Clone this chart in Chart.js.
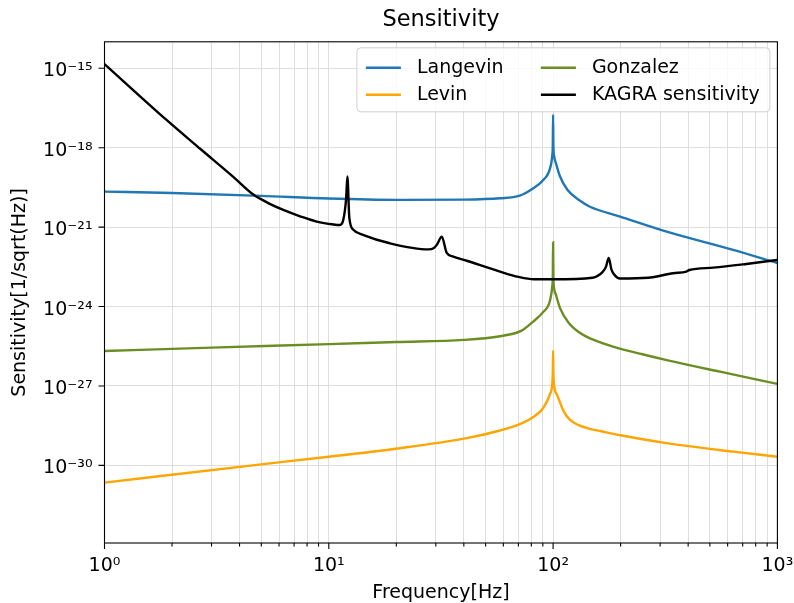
<!DOCTYPE html>
<html><head><meta charset="utf-8">
<script src="https://cdn.jsdelivr.net/npm/chart.js@4"></script>
<style>html,body{margin:0;padding:0;background:#fff}#wrap{width:794px;height:603px}</style>
</head><body><div id="wrap"><canvas id="c" width="794" height="603"></canvas></div>
<script>
// ---- data ----
const langevinFreq = [1, 2, 5, 10, 20, 40, 58, 71, 81.6, 90.4, 96.9, 99.2, 99.7, 100, 100.3, 101, 103, 107.4, 116, 132, 146, 199, 321, 635, 1000];
const langevinValues = [2.188e-20, 1.950e-20, 1.514e-20, 1.202e-20, 1.072e-20, 1.096e-20, 1.230e-20, 1.549e-20, 2.951e-20, 6.026e-20, 1.660e-19, 5.370e-19, 1.259e-18, 1.738e-17, 1.259e-18, 5.012e-19, 2.570e-19, 8.128e-20, 2.512e-20, 1.0e-20, 5.888e-21, 2.512e-21, 6.761e-22, 1.380e-22, 4.365e-23];

const levinFreq = [1, 5, 10, 20.8, 41.2, 58, 72, 82, 90, 96.9, 99.2, 99.7, 100, 100.3, 101, 104.3, 111.7, 119, 130, 146, 162, 200, 321, 635, 1000];
const levinValues = [2.239e-31, 1.096e-30, 2.138e-30, 4.467e-30, 1.072e-29, 2.089e-29, 3.802e-29, 6.918e-29, 1.413e-28, 5.012e-28, 1.259e-27, 3.162e-27, 2.138e-26, 3.162e-27, 1.122e-27, 4.571e-28, 1.072e-28, 5.248e-29, 3.311e-29, 2.399e-29, 1.995e-29, 1.380e-29, 6.918e-30, 3.311e-30, 2.138e-30];

const gonzalezFreq = [1, 3, 10, 20, 40, 58, 72, 82, 90, 96.9, 99.2, 99.7, 100, 100.3, 101, 103, 107.4, 117, 132, 146, 185, 250, 321, 555, 1000];
const gonzalezValues = [2.089e-26, 2.818e-26, 3.802e-26, 4.571e-26, 5.495e-26, 7.586e-26, 1.202e-25, 2.818e-25, 6.026e-25, 1.698e-24, 6.026e-24, 1.413e-23, 2.692e-22, 1.413e-23, 5.012e-24, 2.754e-24, 8.710e-25, 2.512e-25, 1.0e-25, 6.310e-26, 3.090e-26, 1.585e-26, 9.550e-27, 3.467e-27, 1.202e-27];

const kagraFreq = [1, 1.89, 2.67, 3.75, 4.61, 5.4, 6.27, 7.5, 8.83, 10.5, 11.2, 11.6, 11.95, 12.1, 12.35, 12.9, 14.3, 18.7, 27.8, 29.3, 30.3, 31.9, 33.5, 35.9, 41.2, 58, 70, 82, 100, 150, 166, 172, 177, 182, 186, 199, 265, 343, 393, 405, 518, 727, 1000];
const kagraValues = [1.445e-15, 1.122e-17, 9.120e-19, 7.943e-20, 1.698e-20, 7.943e-21, 4.467e-21, 2.512e-21, 1.622e-21, 1.259e-21, 1.202e-21, 1.862e-21, 1.230e-20, 8.128e-20, 2.188e-21, 7.762e-22, 5.012e-22, 2.455e-22, 1.445e-22, 1.585e-22, 2.138e-22, 4.365e-22, 1.096e-22, 7.762e-23, 5.370e-23, 2.089e-23, 1.318e-23, 1.072e-23, 1.072e-23, 1.230e-23, 1.995e-23, 3.162e-23, 6.918e-23, 2.512e-23, 1.738e-23, 1.148e-23, 1.230e-23, 1.820e-23, 2.089e-23, 2.399e-23, 2.951e-23, 4.074e-23, 5.754e-23];

const seriesNames = ['Langevin', 'Levin', 'Gonzalez', 'KAGRA sensitivity'];
const seriesColors = ['#1f77b4', '#ffa500', '#6b8e23', '#000000'];

const xTickValues = [1, 10, 100, 1000];
const xGridValues = [1,2,3,4,5,6,7,8,9,10,20,30,40,50,60,70,80,90,100,200,300,400,500,600,700,800,900,1000];
const yTickValues = [1e-30, 1e-27, 1e-24, 1e-21, 1e-18, 1e-15];
const yMin = 1.175e-33, yMax = 1e-14;

const titleText = 'Sensitivity';
const xTitle = 'Frequency[Hz]';
const yTitle = 'Sensitivity[1/sqrt(Hz)]';

// ---- rendering ----
const FAM = "'DejaVu Sans', sans-serif";
const SUP = {'-':'\u207B','0':'\u2070','1':'\u00B9','2':'\u00B2','3':'\u00B3','4':'\u2074','5':'\u2075','6':'\u2076','7':'\u2077','8':'\u2078','9':'\u2079'};
function sciLabel(v){ const e = Math.round(Math.log10(v)); return '10' + String(e).split('').map(c => SUP[c]).join(''); }
function pts(xs, ys){ return xs.map((f,i) => ({x:f, y:ys[i]})); }

const seriesData = [pts(langevinFreq, langevinValues), pts(levinFreq, levinValues), pts(gonzalezFreq, gonzalezValues), pts(kagraFreq, kagraValues)];
const drawOrder = [4, 3, 2, 1];

const framePlugin = {
  id: 'frame',
  afterDatasetsDraw(chart){
    const {ctx, chartArea:a, scales:{x, y}} = chart;
    ctx.save();
    ctx.strokeStyle = '#000'; ctx.lineWidth = 1.1;
    ctx.strokeRect(a.left, a.top, a.right - a.left, a.bottom - a.top);
    ctx.beginPath();
    xGridValues.forEach(v => {
      const px = x.getPixelForValue(v);
      const L = xTickValues.includes(v) ? 6 : 3.5;
      ctx.moveTo(px, a.bottom); ctx.lineTo(px, a.bottom + L);
    });
    yTickValues.forEach(v => {
      const py = y.getPixelForValue(v);
      ctx.moveTo(a.left - 6, py); ctx.lineTo(a.left, py);
    });
    ctx.stroke();
    // title centred over the plot area
    ctx.fillStyle = '#000';
    ctx.font = '22.5px ' + FAM; ctx.textAlign = 'center'; ctx.textBaseline = 'middle';
    ctx.fillText(titleText, (a.left + a.right) / 2, 20.5);
    ctx.restore();
  }
};

const legendPlugin = {
  id: 'mplLegend',
  afterDraw(chart){
    const {ctx, chartArea:a} = chart;
    const w = 413, h = 64;
    const bx = a.right - 7.5 - w, by = a.top + 6;
    ctx.save();
    ctx.beginPath();
    const r = 4;
    ctx.moveTo(bx + r, by); ctx.lineTo(bx + w - r, by); ctx.quadraticCurveTo(bx + w, by, bx + w, by + r);
    ctx.lineTo(bx + w, by + h - r); ctx.quadraticCurveTo(bx + w, by + h, bx + w - r, by + h);
    ctx.lineTo(bx + r, by + h); ctx.quadraticCurveTo(bx, by + h, bx, by + h - r);
    ctx.lineTo(bx, by + r); ctx.quadraticCurveTo(bx, by, bx + r, by);
    ctx.closePath();
    ctx.fillStyle = 'rgba(255,255,255,0.8)'; ctx.fill();
    ctx.strokeStyle = '#d0d0d0'; ctx.lineWidth = 1; ctx.stroke();
    const cols = [bx + 9, bx + 184];
    const rows = [by + 20, by + 47];
    const layout = [[0,0],[1,0],[0,1],[1,1]]; // [row, col] per series (column-major like matplotlib)
    ctx.font = '19px ' + FAM; ctx.textBaseline = 'middle'; ctx.textAlign = 'left';
    seriesNames.forEach((name, i) => {
      const [ri, ci] = layout[i];
      const lx = cols[ci], ly = rows[ri];
      ctx.strokeStyle = seriesColors[i]; ctx.lineWidth = 2.4;
      ctx.beginPath(); ctx.moveTo(lx, ly); ctx.lineTo(lx + 35, ly); ctx.stroke();
      ctx.fillStyle = '#000';
      ctx.fillText(name, lx + 51, ly);
    });
    ctx.restore();
  }
};

new Chart(document.getElementById('c'), {
  type: 'line',
  data: {
    datasets: seriesNames.map((name, i) => ({
      label: name,
      data: seriesData[i],
      borderColor: seriesColors[i],
      backgroundColor: seriesColors[i],
      borderWidth: 2.4,
      pointRadius: 0,
      pointHoverRadius: 0,
      fill: false,
      cubicInterpolationMode: 'monotone',
      order: drawOrder[i]
    }))
  },
  options: {
    responsive: false,
    animation: false,
    events: [],
    layout: { padding: { left: 0, right: 16.6, top: 41.8, bottom: 0 } },
    plugins: {
      legend: { display: false },
      tooltip: { enabled: false },
      title: { display: false }
    },
    scales: {
      x: {
        type: 'logarithmic', min: 1, max: 1000,
        afterBuildTicks: s => { s.ticks = xGridValues.map(v => ({ value: v, major: xTickValues.includes(v) })); },
        afterFit: s => { s.height = 60; s.paddingLeft = 0; s.paddingRight = 0; },
        ticks: { autoSkip: false, maxRotation: 0, minRotation: 0, padding: 12, color: '#000', font: { family: FAM, size: 19 },
          callback: v => xTickValues.includes(v) ? sciLabel(v) : '' },
        grid: { drawTicks: false, color: '#dedede', lineWidth: 1 },
        border: { display: false },
        title: { display: true, text: xTitle, color: '#000', font: { family: FAM, size: 19 }, padding: { top: 0, bottom: -1 } }
      },
      y: {
        type: 'logarithmic', min: yMin, max: yMax,
        afterBuildTicks: s => { s.ticks = yTickValues.map(v => ({ value: v, major: true })); },
        afterFit: s => { s.width = 104.5; s.paddingTop = 0; s.paddingBottom = 0; },
        ticks: { autoSkip: false, padding: 12, labelOffset: 3, color: '#000', font: { family: FAM, size: 19 }, callback: v => sciLabel(v) },
        grid: { drawTicks: false, color: '#dedede', lineWidth: 1 },
        border: { display: false },
        title: { display: true, text: yTitle, color: '#000', font: { family: FAM, size: 19 }, padding: { top: 9, bottom: 0 } }
      }
    }
  },
  plugins: [framePlugin, legendPlugin]
});
</script>
</body></html>
